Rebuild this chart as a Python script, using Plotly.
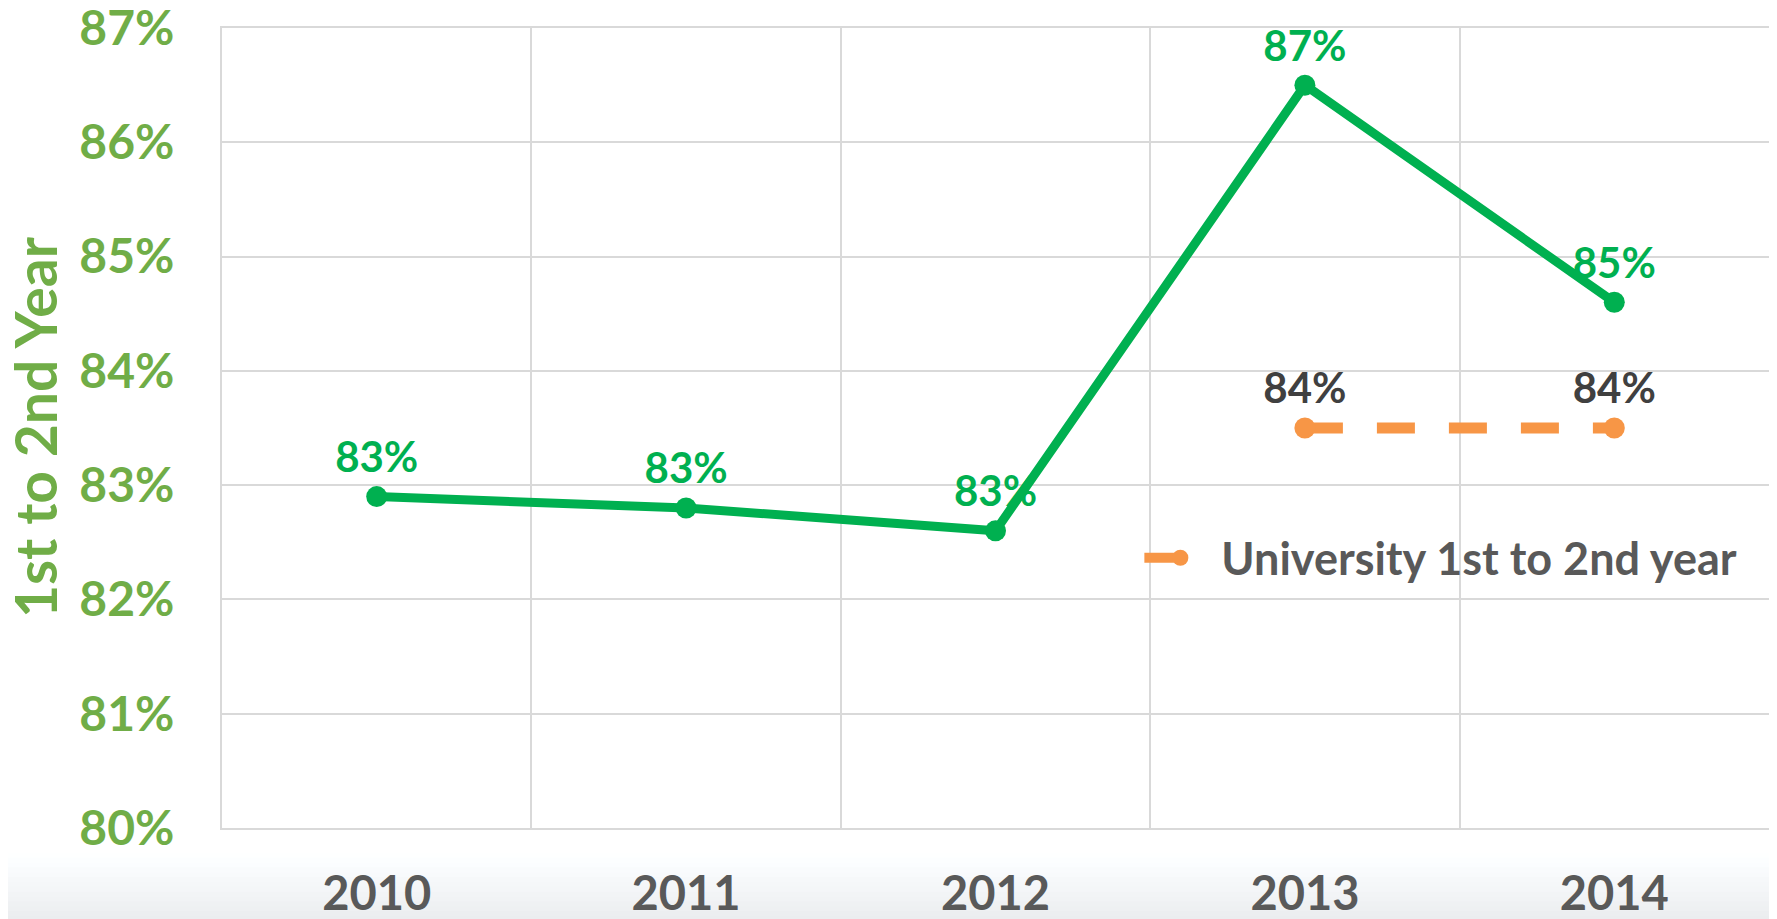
import plotly.graph_objects as go

years = ['2010', '2011', '2012', '2013', '2014']
college_rate = [82.9, 82.8, 82.6, 86.5, 84.6]
university_years = ['2013', '2014']
university_rate = [83.5, 83.5]

green = '#00B050'
axis_green = '#70AD47'
orange = '#F79646'
grey_text = '#595959'
grid = '#D9D9D9'
font = 'Lato'

fig = go.Figure()

fig.add_trace(go.Scatter(
    x=years, y=college_rate, name='1st to 2nd Year',
    mode='lines+markers+text', showlegend=False,
    line=dict(color=green, width=9),
    marker=dict(color=green, size=21),
    texttemplate='%{y:.0f}%', textposition='top center',
    textfont=dict(family=font, size=42, color=green, weight='bold'),
))

fig.add_trace(go.Scatter(
    x=university_years, y=university_rate, name='University 1st to 2nd year',
    mode='lines+markers+text',
    line=dict(color=orange, width=11, dash='38px,34px'),
    marker=dict(color=orange, size=21),
    texttemplate='%{y:.0f}%', textposition='top center',
    textfont=dict(family=font, size=42, color='#404040', weight='bold'),
))

# light grey fade at the bottom of the page
steps = 14
for i in range(steps):
    shade = 255 - round(20 * (i + 1) / steps)
    fig.add_shape(type='rect', xref='paper', yref='paper',
                  x0=-0.2, x1=1.01, y0=-0.13,
                  y1=-0.031 - i * (0.085 / steps),
                  fillcolor=f'rgb({shade},{min(shade + 2, 255)},{min(shade + 4, 255)})',
                  line=dict(width=0), layer='below')

# y axis title, placed by hand like the original
fig.add_annotation(text='1st to 2nd Year', textangle=-90, showarrow=False,
                   xref='paper', yref='paper', x=-0.121, y=0.501,
                   xanchor='center', yanchor='middle',
                   font=dict(family=font, size=57, color=axis_green, weight='bold'))

fig.update_layout(
    width=1761, height=911,
    margin=dict(l=214, r=0, t=20, b=91),
    paper_bgcolor='white', plot_bgcolor='white',
    font=dict(family=font),
    legend=dict(x=0.593, y=0.3375, xanchor='left', yanchor='middle',
                bgcolor='rgba(0,0,0,0)', itemwidth=72,
                font=dict(family=font, size=45, color=grey_text, weight='bold')),
)

fig.update_xaxes(
    type='category', range=[-0.5, 4.5], tickson='boundaries', automargin=False,
    showgrid=True, gridcolor=grid, gridwidth=2,
    showline=True, linecolor=grid, linewidth=2, mirror=True,
    ticks='', ticklabelstandoff=24, ticklabeloverflow='allow',
    tickfont=dict(family=font, size=47, color=grey_text, weight='bold'),
)

fig.update_yaxes(
    range=[80, 87], dtick=1, ticksuffix='%', automargin=False,
    showgrid=True, gridcolor=grid, gridwidth=2,
    showline=True, linecolor=grid, linewidth=2, mirror=True,
    zeroline=False, ticks='', ticklabelstandoff=36, ticklabeloverflow='allow',
    tickfont=dict(family=font, size=48, color=axis_green, weight='bold'),
)

fig.write_html('out.html')
